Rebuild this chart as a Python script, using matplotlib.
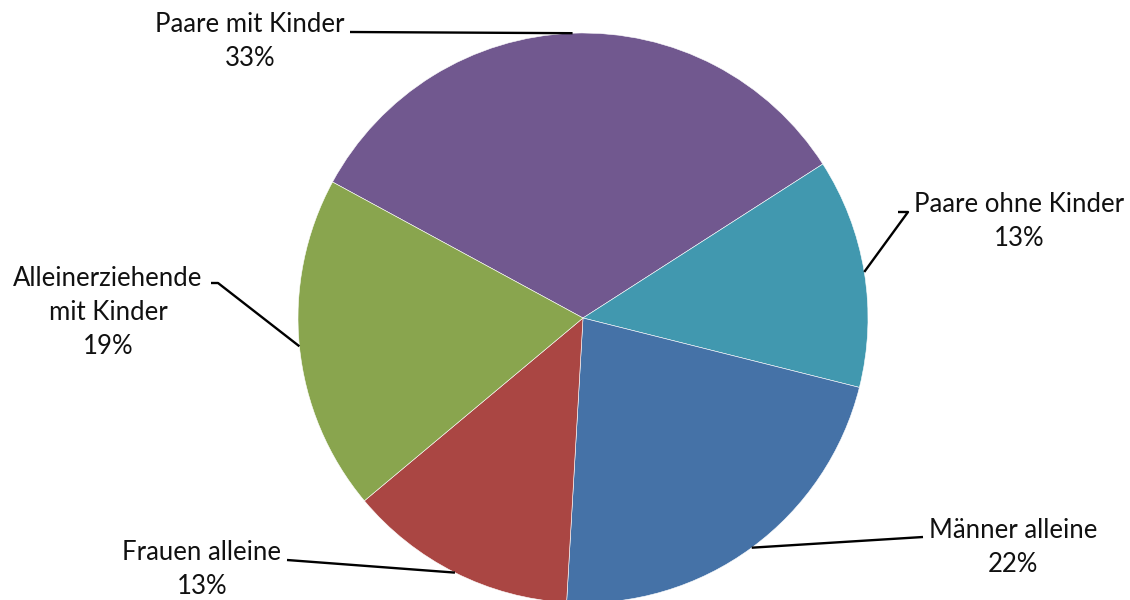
import numpy as np
import matplotlib
matplotlib.use('Agg')
import matplotlib.pyplot as plt

plt.rcParams['font.family'] = ['Lato', 'DejaVu Sans']

# household types, clockwise from the upper left
labels = ['Paare mit Kinder', 'Paare ohne Kinder', 'Männer alleine',
          'Frauen alleine', 'Alleinerziehende\nmit Kinder']
shares = [33, 13, 22, 13, 19]
colors = ['#71588F', '#4198AF', '#4572A7', '#AA4643', '#89A54E']

# where the label blocks sit (pixels, y measured from the bottom)
label_pos = [(250, 559), (1019, 378), (1013, 53), (202, 31), (108, 287)]
# the point where each leader line meets its label
line_start = [(350, 568), (898, 388), (923, 63), (287, 40), (211, 317)]
# short horizontal stub next to the label (None = straight line)
stub = [None, (908, 388), None, None, (218, 317)]

fig = plt.figure(figsize=(11.3, 6), dpi=100)
ax = fig.add_axes([0, 0, 1, 1])

cx, cy, r = 583, 282, 285
wedges, _ = ax.pie(shares, colors=colors, startangle=151.5, counterclock=False,
                   center=(cx, cy), radius=r,
                   wedgeprops=dict(edgecolor='white', linewidth=0.4))

for i, w in enumerate(wedges):
    mid = np.deg2rad((w.theta1 + w.theta2) / 2)
    ex = cx + r * np.cos(mid)
    ey = cy + r * np.sin(mid)
    xs = [line_start[i][0]]
    ys = [line_start[i][1]]
    if stub[i] is not None:
        xs.append(stub[i][0])
        ys.append(stub[i][1])
    xs.append(ex)
    ys.append(ey)
    ax.plot(xs, ys, color='black', lw=1.7, solid_capstyle='butt', zorder=3)
    ax.text(label_pos[i][0], label_pos[i][1], f'{labels[i]}\n{shares[i]}%',
            ha='center', va='center', fontsize=18.5, color='#111111',
            linespacing=1.45)

ax.set_xlim(0, 1130)
ax.set_ylim(0, 600)
ax.set_aspect('equal')
ax.axis('off')

fig.savefig('out.png', dpi=100, facecolor='white')
